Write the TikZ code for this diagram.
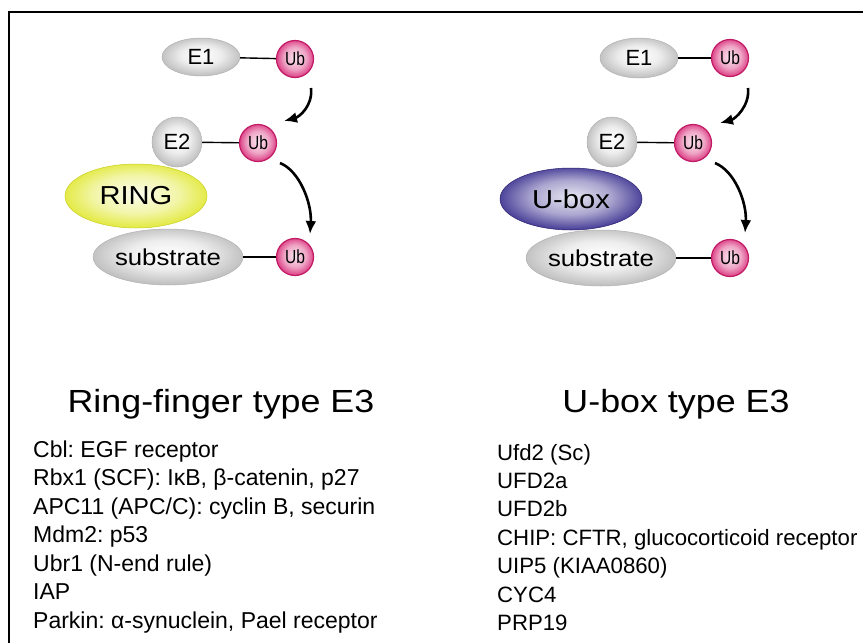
\documentclass[tikz,border=0pt]{standalone}
\usepackage{fontspec}
\setmainfont{Liberation Sans}
\newfontfamily\widefont{Liberation Sans}[FakeStretch=1.12]
\usepackage{graphicx}
\usetikzlibrary{shapes.geometric, arrows.meta, calc}
\frenchspacing

\definecolor{ubpink}{RGB}{214,30,112}
\definecolor{ringyellow}{RGB}{222,230,34}
\definecolor{uboxblue}{RGB}{52,42,140}

% soft highlight in the middle, colour deepening to the rim
\pgfdeclareradialshading{grayblob}{\pgfpoint{0bp}{3bp}}{color(0bp)=(white); color(13bp)=(black!7); color(28bp)=(black!28); color(35bp)=(black!45); color(50bp)=(black!45)}
\pgfdeclareradialshading{pinkblob}{\pgfpoint{0bp}{2bp}}{color(0bp)=(white!88!ubpink); color(15bp)=(white!60!ubpink); color(29bp)=(ubpink); color(35bp)=(ubpink!85!black); color(50bp)=(ubpink!85!black)}
\pgfdeclareradialshading{yellowblob}{\pgfpoint{0bp}{2bp}}{color(0bp)=(white!92!ringyellow); color(15bp)=(white!60!ringyellow); color(29bp)=(ringyellow); color(35bp)=(ringyellow!90!black); color(50bp)=(ringyellow!90!black)}
\pgfdeclareradialshading{blueblob}{\pgfpoint{0bp}{2bp}}{color(0bp)=(white!88!uboxblue); color(14bp)=(white!58!uboxblue); color(28bp)=(uboxblue); color(35bp)=(uboxblue!80!black); color(50bp)=(uboxblue!80!black)}

\newcommand{\Ub}{\scalebox{0.82}[1]{Ub}}

\tikzset{
  protein/.style = {ellipse, inner sep = 0pt, shade, shading = grayblob,
    draw = black!30, line width = 0.5pt,
    font = \fontsize{22}{22}\selectfont},
  ubq/.style = {circle, inner sep = 0pt, minimum size = 37pt,
    shade, shading = pinkblob, draw = ubpink!90!black, line width = 1.2pt,
    font = \fontsize{19}{19}\selectfont},
  bond/.style = {line width = 1.4pt},
  transfer/.style = {line width = 2.6pt, -{Latex[length = 13pt, width = 11pt]}},
  title/.style = {anchor = base, font = \widefont\fontsize{32}{32}\selectfont},
  entry/.style = {anchor = base west, inner sep = 0pt, font = \fontsize{23}{23}\selectfont}
}

\begin{document}
\begin{tikzpicture}[x = 1pt, y = -1pt]
\useasboundingbox (0,0) rectangle (863,643);
\draw[line width = 2pt] (8.5,643) -- (8.5,11.5) -- (863,11.5);

% RING finger E3
\node[protein, minimum width = 78pt, minimum height = 38pt] (e1L) at (201,57) {E1};
\node[ubq] (ub1L) at (295,59) {\Ub};
\draw[bond] (e1L) -- (ub1L);
\node[protein, minimum width = 50pt, minimum height = 50pt] (e2L) at (177,142) {E2};
\node[ubq] (ub2L) at (258,143) {\Ub};
\draw[bond] (e2L) -- (ub2L);
\node[protein, minimum width = 144pt, minimum height = 56pt, font = \widefont\fontsize{23}{23}\selectfont] (subL) at (168,257) {substrate};
\node[ellipse, minimum width = 142pt, minimum height = 64pt, shade, shading = yellowblob, draw = ringyellow!90!black, line width = 0.5pt, font = \widefont\fontsize{26}{26}\selectfont] (ringL) at (136,196) {RING};
\node[ubq] (ub3L) at (295,257) {\Ub};
\draw[bond] (subL) -- (ub3L);
\draw[transfer] ($(ub1L)+(16,29)$) .. controls +(2,18) and +(15,-4) .. ($(ub2L)+(26,-22)$);
\draw[transfer] ($(ub2L)+(22,20)$) .. controls +(20,8) and +(2,-30) .. ($(ub3L)+(15,-23)$);

% U-box E3
\node[protein, minimum width = 78pt, minimum height = 40pt] (e1R) at (639,58) {E1};
\node[ubq] (ub1R) at (730,58) {\Ub};
\draw[bond] (e1R) -- (ub1R);
\node[protein, minimum width = 50pt, minimum height = 50pt] (e2R) at (612,142) {E2};
\node[ubq] (ub2R) at (693,143) {\Ub};
\draw[bond] (e2R) -- (ub2R);
\node[protein, minimum width = 138pt, minimum height = 56pt, font = \widefont\fontsize{23}{23}\selectfont] (subR) at (601,258) {substrate};
\node[ellipse, minimum width = 142pt, minimum height = 62pt, shade, shading = blueblob, draw = uboxblue!80!black, line width = 0.5pt, font = \widefont\fontsize{26}{26}\selectfont] (uboxR) at (571,199) {U-box};
\node[ubq] (ub3R) at (730,258) {\Ub};
\draw[bond] (subR) -- (ub3R);
\draw[transfer] ($(ub1R)+(18,30)$) .. controls +(2,18) and +(15,-4) .. ($(ub2R)+(27,-20)$);
\draw[transfer] ($(ub2R)+(22,20)$) .. controls +(20,8) and +(2,-30) .. ($(ub3R)+(15,-25)$);

% headings and substrates
\node[title] (titleL) at (221,412) {Ring-finger type E3};
\node[title] (titleR) at (676,412) {U-box type E3};
\foreach \txt [count = \i from 0] in {{Cbl: EGF receptor}, {Rbx1 (SCF): IκB, β-catenin, p27},
    {APC11 (APC/C): cyclin B, securin}, {Mdm2: p53}, {Ubr1 (N-end rule)}, {IAP},
    {Parkin: α-synuclein, Pael receptor}}
  \node[entry] (listL\i) at (33, {457 + 28.5*\i}) {\txt};
\foreach \txt [count = \i from 0] in {{Ufd2 (Sc)}, {UFD2a}, {UFD2b},
    {CHIP: CFTR, glucocorticoid receptor}, {UIP5 (KIAA0860)}, {CYC4}, {PRP19}}
  \node[entry, font = \fontsize{22.2}{22.2}\selectfont] (listR\i) at (497, {460 + 28.4*\i}) {\txt};
\end{tikzpicture}
\end{document}
